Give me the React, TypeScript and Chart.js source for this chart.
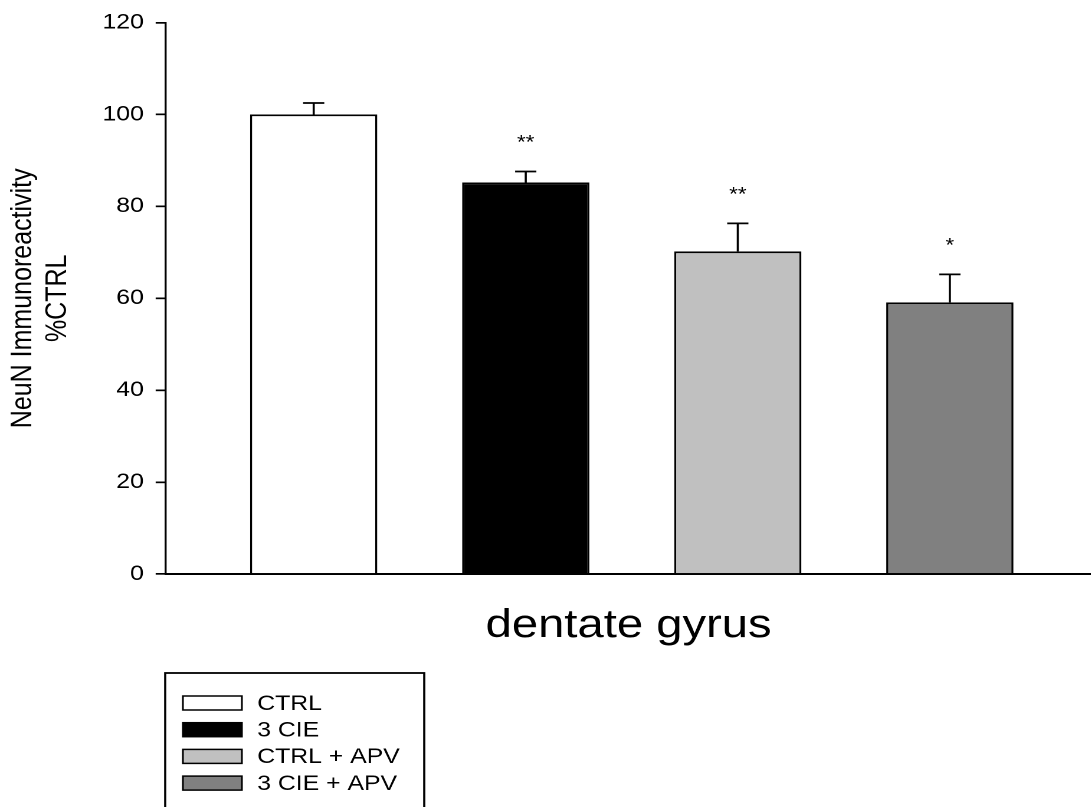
import React, { useEffect, useRef } from "react";
import { Chart, registerables } from "chart.js";

Chart.register(...registerables);

// ---- data ----
const categories = ["CTRL", "3 CIE", "CTRL + APV", "3 CIE + APV"];
const meanValues = [100, 85.2, 70.2, 59.1];
const semValues = [2.5, 2.4, 6.1, 6.1];
const significance = ["", "**", "**", "*"];
const barColors = ["#ffffff", "#000000", "#c0c0c0", "#808080"];
const yTicks = [0, 20, 40, 60, 80, 100, 120];
const xTitle = "dentate gyrus";
const yTitle = ["NeuN Immunoreactivity", "%CTRL"];

// ---- layout / style ----
const SX = 1.18; // horizontal stretch of the original figure
const W = 925;
const H = 807;
const FONT = "'Liberation Sans', Arial, Helvetica, sans-serif";

const errorBarPlugin = {
  id: "errorBars",
  afterDatasetsDraw(chart: any) {
    const { ctx } = chart;
    const y = chart.scales.y;
    const meta = chart.getDatasetMeta(0);
    ctx.save();
    ctx.strokeStyle = "#000";
    ctx.lineWidth = 1.8;
    meta.data.forEach((bar: any, i: number) => {
      const xc = bar.x;
      const yTop = y.getPixelForValue(meanValues[i]);
      const yErr = y.getPixelForValue(meanValues[i] + semValues[i]);
      ctx.beginPath();
      ctx.moveTo(xc, yTop);
      ctx.lineTo(xc, yErr);
      ctx.moveTo(xc - 9, yErr);
      ctx.lineTo(xc + 9, yErr);
      ctx.stroke();
      if (significance[i]) {
        ctx.fillStyle = "#000";
        ctx.font = `19px ${FONT}`;
        ctx.textAlign = "center";
        ctx.textBaseline = "alphabetic";
        ctx.fillText(significance[i], xc, yErr - 23);
      }
    });
    ctx.restore();
  },
};

const boxLegendPlugin = {
  id: "boxLegend",
  afterDraw(chart: any) {
    const { ctx } = chart;
    const left = 140;
    const right = 359.5;
    const top = 673;
    ctx.save();
    ctx.strokeStyle = "#000";
    ctx.lineWidth = 1.8;
    ctx.strokeRect(left, top, right - left, H - top + 10);
    ctx.font = `21px ${FONT}`;
    ctx.textAlign = "left";
    ctx.textBaseline = "middle";
    categories.forEach((label, i) => {
      const cy = 703 + i * 26.7;
      ctx.fillStyle = barColors[i];
      ctx.fillRect(155, cy - 7, 50, 14);
      ctx.lineWidth = 1.5;
      ctx.strokeRect(155, cy - 7, 50, 14);
      ctx.fillStyle = "#000";
      ctx.fillText(label, 218, cy + 1);
    });
    ctx.restore();
  },
};

export default function App() {
  const ref = useRef<HTMLCanvasElement>(null);

  useEffect(() => {
    const chart = new Chart(ref.current as HTMLCanvasElement, {
      type: "bar",
      data: {
        datasets: [
          {
            data: meanValues.map((v, i) => ({ x: i, y: v })),
            backgroundColor: barColors,
            borderColor: "#000",
            borderWidth: 1.8,
            borderSkipped: "start",
            barPercentage: 0.6,
            categoryPercentage: 1,
          },
        ],
      },
      options: {
        animation: false,
        responsive: false,
        devicePixelRatio: 2,
        layout: { padding: { top: 22, left: 0, right: 0, bottom: 0 } },
        plugins: {
          legend: { display: false },
          tooltip: { enabled: false },
        },
        scales: {
          x: {
            type: "linear",
            offset: false,
            min: -0.698,
            max: 3.668,
            grid: { display: false },
            border: { display: true, color: "#000", width: 2 },
            ticks: { display: false },
            afterBuildTicks: (scale: any) => {
              scale.ticks = categories.map((_, i) => ({ value: i }));
            },
            title: {
              display: true,
              text: xTitle,
              color: "#000",
              font: { family: FONT, size: 40 },
              padding: { top: 0, bottom: 157 },
            },
            afterFit: (scale: any) => {
              scale.height = 233;
            },
          },
          y: {
            min: 0,
            max: 120,
            grid: {
              drawOnChartArea: false,
              drawTicks: true,
              tickLength: 8.5,
              color: "#000",
              lineWidth: 1.7,
            },
            border: { display: true, color: "#000", width: 1.7 },
            ticks: {
              color: "#000",
              padding: 10,
              font: { family: FONT, size: 21 },
            },
            afterBuildTicks: (scale: any) => {
              scale.ticks = yTicks.map((v) => ({ value: v }));
            },
            title: {
              display: true,
              text: yTitle,
              color: "#000",
              font: { family: FONT, size: 25, lineHeight: 1.18 },
              padding: { top: 5, bottom: 0 },
            },
            afterFit: (scale: any) => {
              scale.width = 140.4;
            },
          },
        },
      },
      plugins: [errorBarPlugin, boxLegendPlugin],
    } as any);
    return () => chart.destroy();
  }, []);

  return (
    <div
      style={{
        position: "fixed",
        left: 0,
        top: 0,
        width: 1091,
        height: 807,
        overflow: "hidden",
        background: "#fff",
      }}
    >
      <div
        style={{
          width: W,
          height: H,
          transform: `scaleX(${SX})`,
          transformOrigin: "0 0",
        }}
      >
        <canvas ref={ref} width={W} height={H} style={{ display: "block" }} />
      </div>
    </div>
  );
}
